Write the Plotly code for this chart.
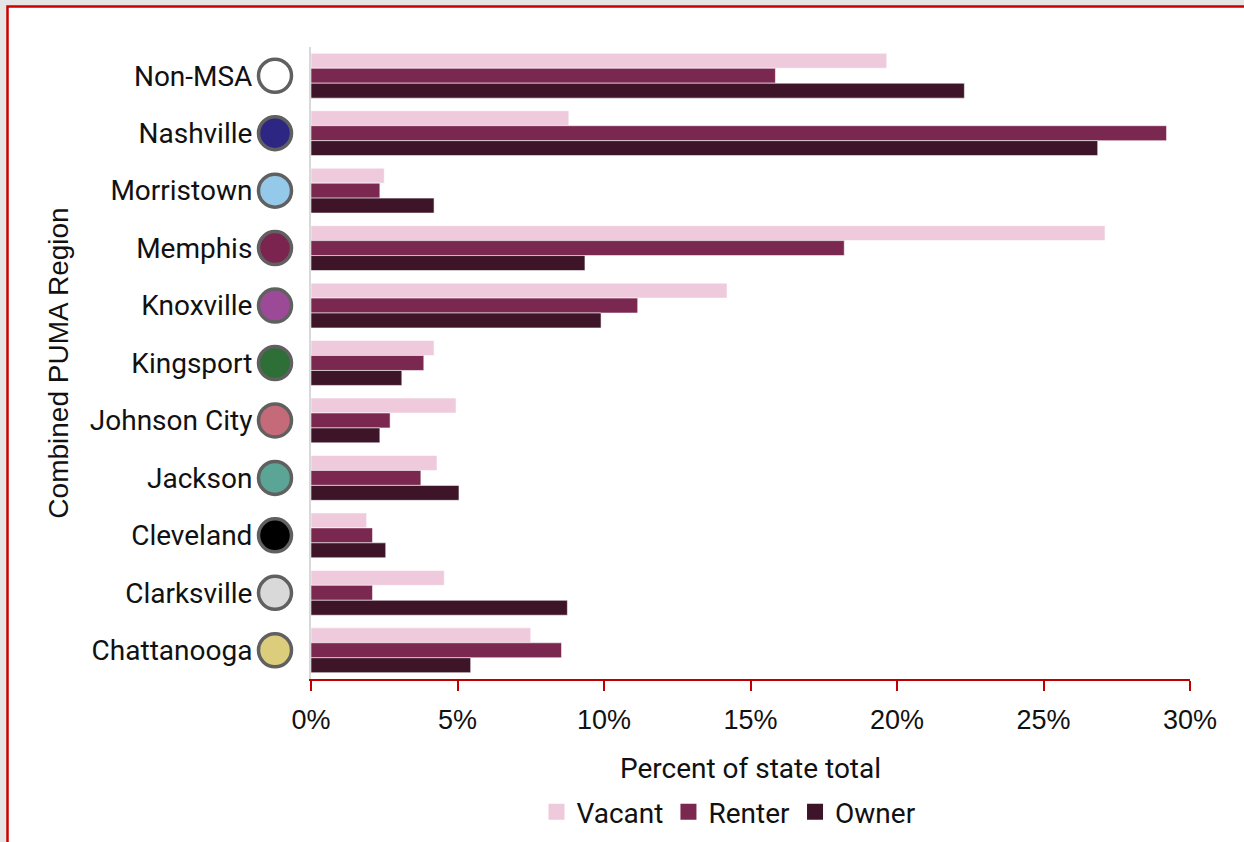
import plotly.graph_objects as go

# Combined PUMA regions, listed top to bottom
regions = ["Non-MSA", "Nashville", "Morristown", "Memphis", "Knoxville",
           "Kingsport", "Johnson City", "Jackson", "Cleveland", "Clarksville",
           "Chattanooga"]

# Share of the state total (percent) by housing tenure
vacant = [19.65, 8.8, 2.5, 27.1, 14.2, 4.2, 4.95, 4.3, 1.9, 4.55, 7.5]
renter = [15.85, 29.2, 2.35, 18.2, 11.15, 3.85, 2.7, 3.75, 2.1, 2.1, 8.55]
owner = [22.3, 26.85, 4.2, 9.35, 9.9, 3.1, 2.35, 5.05, 2.55, 8.75, 5.45]

# Region key colours shown as dots beside the labels
region_colors = ["#ffffff", "#2e2683", "#95c9ea", "#7b2450", "#9c4a97",
                 "#2e6e37", "#c46a78", "#5aa596", "#000000", "#d9d9d9",
                 "#dccd7d"]

series = [("Vacant", vacant, "#efcadc"),
          ("Renter", renter, "#7b2850"),
          ("Owner", owner, "#3e1429")]

W, H = 1244, 842
ML, MR, MT, MB = 30, 54, 47, 163
PW, PH = W - ML - MR, H - MT - MB
AXIS_LEFT = 311          # pixel where the value axis starts
DOT_LEFT, DOT_RIGHT = 255, 295   # pixel band holding the key dots


def px_x(p):
    return (p - ML) / PW


def px_y(q):
    return (H - MB - q) / PH


fig = go.Figure()

for name, vals, col in series:
    fig.add_trace(go.Bar(
        y=regions, x=vals, name=name, orientation="h",
        marker=dict(color=col, line=dict(color="rgba(255,255,255,0.55)", width=1)),
        legendgroup=name, showlegend=False,
    ))
    # square legend swatch
    fig.add_trace(go.Scatter(
        x=[None], y=[None], mode="markers", name=name, legendgroup=name,
        marker=dict(symbol="square", size=16, color=col),
    ))

# key dots next to the category labels, on their own narrow x axis
fig.add_trace(go.Scatter(
    y=regions, x=[0.5] * len(regions), mode="markers",
    xaxis="x2", yaxis="y",
    marker=dict(size=33, color=region_colors,
                line=dict(color="#606060", width=3.5)),
    cliponaxis=False, showlegend=False, hoverinfo="skip",
))

fig.update_layout(
    width=W, height=H,
    margin=dict(l=ML, r=MR, t=MT, b=MB, autoexpand=False),
    paper_bgcolor="#e5e5e5",
    plot_bgcolor="rgba(0,0,0,0)",
    barmode="group", bargap=0.22, bargroupgap=0,
    font=dict(family="Roboto", size=28, color="#111111"),
    showlegend=True,
    legend=dict(orientation="h", x=px_x(729), xanchor="center",
                yref="container", y=1 - 812 / H, yanchor="middle",
                font=dict(family="Roboto", size=28),
                bgcolor="rgba(0,0,0,0)", itemwidth=30,
                traceorder="normal"),
    shapes=[dict(type="rect", xref="paper", yref="paper",
                 x0=px_x(7.5), x1=px_x(1300), y0=px_y(900), y1=px_y(6.5),
                 fillcolor="#ffffff", line=dict(color="#cc0000", width=2.5),
                 layer="below")],
    xaxis=dict(
        domain=[px_x(AXIS_LEFT), 1],
        range=[0, 30], dtick=5, tickformat=".0f", ticksuffix="%",
        showgrid=False, zeroline=False,
        showline=True, linecolor="#c00000", linewidth=2,
        ticks="outside", ticklen=10, tickwidth=2, tickcolor="#c00000",
        ticklabelstandoff=6,
        tickfont=dict(family="Liberation Sans", size=27, color="#111111"),
        title=dict(text="Percent of state total",
                   font=dict(family="Roboto", size=28, color="#111111"),
                   standoff=24),
    ),
    xaxis2=dict(
        domain=[px_x(DOT_LEFT), px_x(DOT_RIGHT)], anchor="y",
        range=[0, 1], visible=False, fixedrange=True,
    ),
    yaxis=dict(
        anchor="x",
        range=[len(regions) - 0.5, -0.5],
        showgrid=False, zeroline=False,
        showline=True, linecolor="#d9d9d9", linewidth=2,
        ticks="", ticklabelstandoff=51,
        tickfont=dict(family="Roboto", size=28, color="#111111"),
        title=dict(text="Combined PUMA Region",
                   font=dict(family="Liberation Sans", size=28, color="#111111"),
                   standoff=13),
    ),
)

fig.write_html("out.html")
